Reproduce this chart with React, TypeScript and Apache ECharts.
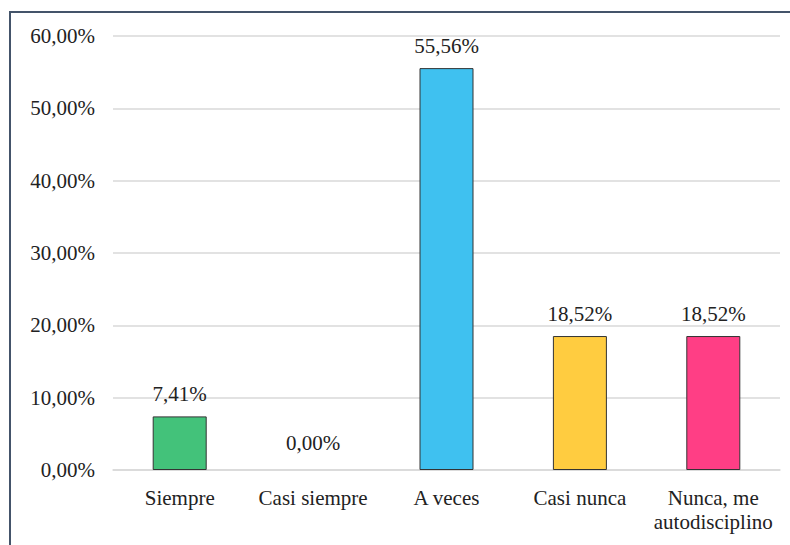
import React, { useEffect, useRef } from "react";
import * as echarts from "echarts";

const categories = ["Siempre", "Casi siempre", "A veces", "Casi nunca", "Nunca, me\nautodisciplino"];
const values = [7.41, 0.0, 55.56, 18.52, 18.52];
const colors = ["#43C27A", "#C0C0C0", "#3FC1F0", "#FFCC40", "#FF3E85"];
const yTicks = { min: 0, max: 60, interval: 10 };

const fmt = (v: number) => v.toFixed(2).replace(".", ",") + "%";
const FONT = "'Liberation Serif', 'Times New Roman', serif";

export default function App() {
  const ref = useRef<HTMLDivElement>(null);
  useEffect(() => {
    const chart = echarts.init(ref.current!, undefined, { renderer: "svg" });
    chart.setOption({
      animation: false,
      backgroundColor: "#ffffff",
      graphic: [
        {
          type: "rect",
          shape: { x: 10, y: 12, width: 800, height: 600 },
          style: { fill: "none", stroke: "#44546A", lineWidth: 2 },
          silent: true,
          z: 100,
        },
      ],
      grid: { left: 113, right: 10, top: 36, bottom: 75, containLabel: false },
      xAxis: {
        type: "category",
        data: categories,
        axisLine: { show: true, lineStyle: { color: "#D9D9D9", width: 1.5 } },
        axisTick: { show: false },
        axisLabel: {
          interval: 0,
          color: "#222222",
          fontFamily: FONT,
          fontSize: 21,
          margin: 16,
          lineHeight: 24,
        },
      },
      yAxis: {
        type: "value",
        min: yTicks.min,
        max: yTicks.max,
        interval: yTicks.interval,
        axisLine: { show: false },
        axisTick: { show: false },
        splitLine: { lineStyle: { color: "#D9D9D9", width: 1.5 } },
        axisLabel: {
          color: "#222222",
          fontFamily: FONT,
          fontSize: 21,
          margin: 18,
          formatter: (v: number) => fmt(v),
        },
      },
      series: [
        {
          type: "bar",
          barWidth: 54,
          data: values.map((v, i) => ({
            value: v,
            itemStyle: {
              color: colors[i],
              borderColor: "#333333",
              borderWidth: v === 0 ? 0 : 1,
            },
            label: v === 0 ? { distance: 17 } : undefined,
          })),
          label: {
            show: true,
            position: "top",
            distance: 12,
            color: "#222222",
            fontFamily: FONT,
            fontSize: 21,
            formatter: (p: any) => fmt(p.value),
          },
        },
      ],
    });
    return () => chart.dispose();
  }, []);
  return <div ref={ref} style={{ width: 790, height: 545, position: "absolute", left: 0, top: 0 }} />;
}
